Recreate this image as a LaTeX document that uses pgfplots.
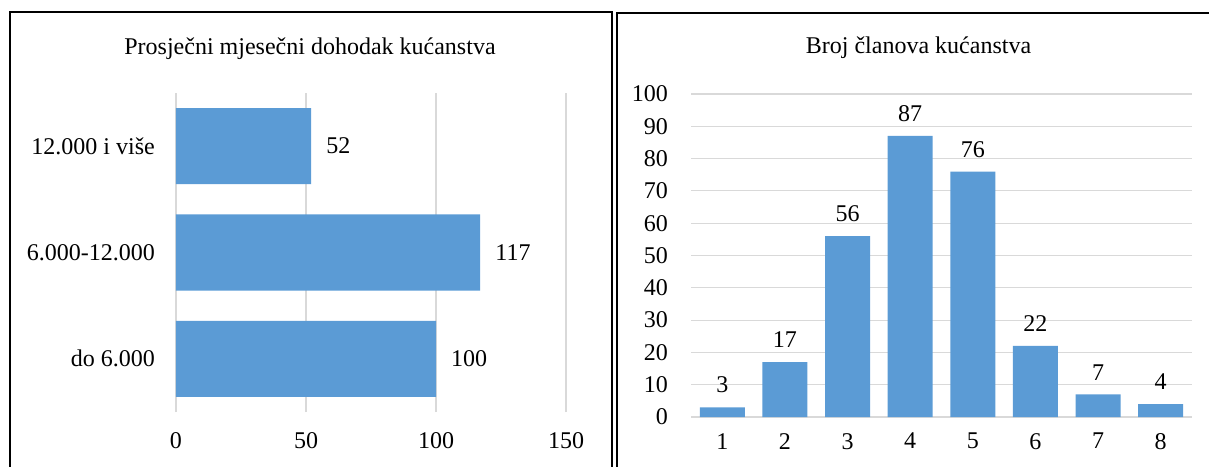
\documentclass[border=0pt]{standalone}
\usepackage{pgfplots}
\pgfplotsset{compat=1.18}
\usepackage{fontspec}
\setmainfont{Liberation Serif}
\definecolor{barblue}{HTML}{5B9BD5}
\definecolor{gridgray}{HTML}{D9D9D9}
\begin{document}
\fontsize{24}{28}\selectfont
\begin{tikzpicture}[x=1pt,y=1pt]
\clip (0,0) rectangle (1209,466);
\draw[line width=2pt] (10,-20) -- (10,454) -- (612,454) -- (612,-20);
\draw[line width=2pt] (617,-20) -- (617,453) -- (1230,453);
\begin{axis}[
  at={(176pt,54pt)}, anchor=south west,
  scale only axis, width=390pt, height=319pt,
  xbar, bar width=76pt,
  xmin=0, xmax=150,
  ymin=-0.5, ymax=2.5,
  xtick={0,50,100,150},
  ytick={0,1,2},
  yticklabels={do 6.000,6.000-12.000,12.000 i više},
  axis line style={draw=none},
  major tick length=0pt,
  xmajorgrids, grid style={gridgray, line width=1.2pt},
  tick label style={font=\fontsize{24}{28}\selectfont},
  /pgf/number format/assume math mode=true,
  xticklabel style={yshift=-12pt},
  yticklabel style={xshift=-13pt},
  nodes near coords,
  nodes near coords style={font=\fontsize{24}{28}\selectfont, xshift=7pt},
  title={Prosječni mjesečni dohodak kućanstva},
  title style={font=\fontsize{24}{28}\selectfont, anchor=center, at={(0.5,1)}, yshift=38pt, xshift=-61pt},
]
\addplot[fill=barblue, draw=none] coordinates {(100,0) (117,1) (52,2)};
\end{axis}
\begin{axis}[
  at={(691pt,49pt)}, anchor=south west,
  scale only axis, width=501pt, height=323pt,
  ybar, bar width=45pt,
  xmin=0.5, xmax=8.5,
  ymin=0, ymax=100,
  xtick={1,...,8},
  ytick={0,10,...,100},
  axis line style={draw=none},
  major tick length=0pt,
  ymajorgrids, grid style={gridgray, line width=1.2pt},
  tick label style={font=\fontsize{24}{28}\selectfont},
  /pgf/number format/assume math mode=true,
  xticklabel style={yshift=-8pt},
  yticklabel style={xshift=-15pt},
  nodes near coords,
  nodes near coords style={font=\fontsize{24}{28}\selectfont, yshift=6pt},
  title={Broj članova kućanstva},
  title style={font=\fontsize{24}{28}\selectfont, anchor=center, at={(0.5,1)}, yshift=40pt, xshift=-23pt},
]
\addplot[fill=barblue, draw=none] coordinates {(1,3) (2,17) (3,56) (4,87) (5,76) (6,22) (7,7) (8,4)};
\end{axis}
\end{tikzpicture}
\end{document}
